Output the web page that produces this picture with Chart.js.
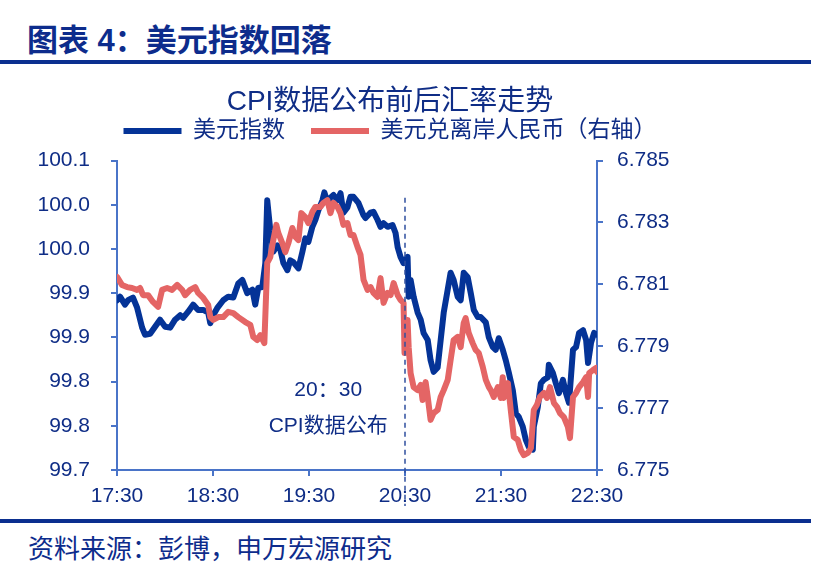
<!DOCTYPE html>
<html lang="zh-CN">
<head>
<meta charset="utf-8">
<title>图表 4：美元指数回落</title>
<script src="https://cdn.jsdelivr.net/npm/chart.js@4.4.1/dist/chart.umd.min.js"></script>
<style>
body{
    margin:0;
    width:814px;
    height:578px;
    background:#fff;
    position:relative;
    overflow:hidden;
    font-family:"Liberation Sans","Noto Sans CJK SC",sans-serif;
}
.head{
    position:absolute;
    left:27px;
    top:25px;
    font-size:31px;
    line-height:31px;
    font-weight:bold;
    color:#0d2c8c;
    white-space:nowrap;
}
.rule{
    position:absolute;
    left:0;
    width:811px;
    height:4px;
    background:#0b2f8f;
}
.foot{
    position:absolute;
    left:28px;
    top:536px;
    font-size:26px;
    line-height:26px;
    color:#0d2c8c;
    white-space:nowrap;
}
#chart{
    position:absolute;
    left:0;
    top:70px;
}
</style>
</head>
<body>

<div class="head">图表 4：美元指数回落</div>
<div class="rule" style="top:60px"></div>
<canvas id="chart" width="780" height="450"></canvas>
<div class="rule" style="top:519px"></div>
<div class="foot">资料来源：彭博，申万宏源研究</div>

<script>
const timeLabels = ["17:30", "18:30", "19:30", "20:30", "21:30", "22:30"];
const leftTickLabels = ["99.7", "99.8", "99.8", "99.9", "99.9", "100.0", "100.0", "100.1"];
const rightTickLabels = ["6.775", "6.777", "6.779", "6.781", "6.783", "6.785"];

// minutes after 17:30
const usdTimes = [
    0, 1.9, 5, 6.9, 10, 12.5, 15.7, 17.5, 20.7, 23.8,
    26.9, 30.1, 33.2, 36.3, 39.5, 41.3, 44.5, 47.6, 50.7, 53.9,
    57, 58.3, 60.1, 62.6, 66.4, 69.5, 72.7, 75.8, 78.3, 81.4,
    84.6, 86.4, 88.3, 90.8, 92.7, 93.9, 95.8, 97.7, 100.2, 102.1,
    104, 106.5, 108.3, 110.2, 113.4, 115.9, 117.7, 119.6, 122.1, 124,
    125.9, 128.4, 129.6, 131.5, 133.4, 135.3, 137.8, 139.7, 141.5, 144,
    145.9, 147.8, 150.9, 154.1, 155.3, 158.5, 160.3, 162.8, 164.7, 166.6,
    169.1, 172.2, 174.1, 175.4, 177.2, 179.1, 181.6, 182.3, 183.5, 185.4,
    187.9, 189.8, 191.6, 194.2, 196, 197.9, 200.4, 202.3, 204.2, 206.7,
    208.5, 210.4, 212.9, 214.8, 216.7, 219.2, 221.1, 223, 225.5, 227.3,
    230.5, 232.4, 234.9, 236.7, 238.6, 241.1, 243, 244.9, 247.4, 249.3,
    251.1, 253.6, 255.5, 257.4, 259.9, 260.5, 263, 264.9, 266.8, 269.3,
    269.9, 272.4, 274.3, 276.2, 278.7, 280.6, 282.5, 285, 286.9, 288.8,
    291.3, 293.2, 294.4, 296.3, 298.2, 300
];
const usdIndex = [
    99.892, 99.896, 99.887, 99.892, 99.895, 99.884, 99.861, 99.853, 99.854, 99.862,
    99.870, 99.862, 99.861, 99.870, 99.875, 99.872, 99.879, 99.887, 99.881, 99.881,
    99.878, 99.866, 99.875, 99.883, 99.892, 99.896, 99.895, 99.911, 99.915, 99.900,
    99.904, 99.887, 99.906, 99.907, 99.934, 100.005, 99.971, 99.947, 99.954, 99.949,
    99.934, 99.926, 99.937, 99.935, 99.928, 99.947, 99.962, 99.958, 99.975, 99.983,
    99.994, 100.005, 100.014, 100.003, 100.008, 100.011, 100.005, 100.013, 99.991, 99.997,
    100.009, 100.009, 100.002, 99.988, 99.985, 99.991, 99.992, 99.983, 99.975, 99.979,
    99.975, 99.977, 99.968, 99.952, 99.941, 99.934, 99.941, 99.896, 99.915, 99.896,
    99.878, 99.870, 99.855, 99.847, 99.824, 99.811, 99.816, 99.847, 99.878, 99.904,
    99.923, 99.915, 99.896, 99.892, 99.923, 99.918, 99.900, 99.881, 99.873, 99.873,
    99.867, 99.850, 99.839, 99.836, 99.849, 99.836, 99.824, 99.810, 99.790, 99.764,
    99.760, 99.749, 99.734, 99.726, 99.723, 99.749, 99.771, 99.798, 99.802, 99.805,
    99.819, 99.810, 99.798, 99.787, 99.802, 99.787, 99.776, 99.836, 99.839, 99.855,
    99.858, 99.847, 99.821, 99.844, 99.855, 99.853
];

const cnhTimes = [
    0, 3.1, 6.3, 9.4, 12.5, 14.4, 16.3, 19.4, 22.5, 25.7,
    28.2, 31.3, 34.4, 37.6, 40.7, 42.6, 45.7, 48.9, 50.7, 53.9,
    57, 58.3, 60.1, 63.3, 66.4, 69.5, 72.7, 75.8, 80.2, 83.3,
    85.2, 87.7, 89.6, 92.1, 93.9, 95.8, 97.7, 99.6, 100.8, 103.3,
    105.2, 107.1, 109.6, 111.5, 113.4, 115.2, 117.7, 119.6, 122.1, 124,
    127.1, 129, 131.5, 133.4, 135.3, 137.8, 139.7, 141.5, 144, 145.9,
    147.8, 150.3, 152.2, 154.1, 156.6, 158.5, 160.3, 162.8, 164.7, 166.6,
    169.1, 171, 172.9, 175.4, 177.2, 179.1, 179.7, 181.6, 182.3, 183.5,
    185.4, 187.9, 189.8, 191, 192.9, 194.2, 196, 197.9, 200.4, 202.3,
    204.2, 206.7, 208.5, 210.4, 212.9, 214.8, 216.7, 217.9, 219.8, 222.3,
    224.2, 226.1, 228.6, 230.5, 232.4, 233.6, 235.5, 238, 239.9, 241.1,
    241.7, 244.3, 246.1, 248, 250.5, 252.4, 254.3, 256.8, 258.7, 260.5,
    262.4, 264.3, 266.8, 268.7, 270.6, 273.1, 275, 276.8, 279.3, 281.8,
    283.1, 285, 286.9, 288.8, 291.3, 293.2, 294.4, 295.1, 297.5, 299.4,
    300
];
const usdCnh = [
    6.78124, 6.78098, 6.78091, 6.78088, 6.78082, 6.78088, 6.78065, 6.78065, 6.78043, 6.78027,
    6.78082, 6.78088, 6.78082, 6.78098, 6.78082, 6.78065, 6.78082, 6.78091, 6.78072, 6.78056,
    6.78033, 6.77994, 6.77985, 6.77994, 6.77994, 6.78011, 6.78007, 6.77994, 6.77978, 6.77969,
    6.77930, 6.77920, 6.77936, 6.77910, 6.78169, 6.78188, 6.78243, 6.78292, 6.78266, 6.78233,
    6.78204, 6.78233, 6.78282, 6.78253, 6.78243, 6.78330, 6.78317, 6.78298, 6.78334, 6.78350,
    6.78350, 6.78363, 6.78372, 6.78330, 6.78363, 6.78350, 6.78330, 6.78292, 6.78298, 6.78259,
    6.78259, 6.78221, 6.78195, 6.78114, 6.78082, 6.78091, 6.78072, 6.78059, 6.78120, 6.78040,
    6.78072, 6.78065, 6.78104, 6.78065, 6.78049, 6.78040, 6.77878, 6.77985, 6.77897, 6.77813,
    6.77768, 6.77758, 6.77775, 6.77726, 6.77784, 6.77736, 6.77662, 6.77684, 6.77694, 6.77736,
    6.77758, 6.77791, 6.77855, 6.77920, 6.77930, 6.77897, 6.77975, 6.77991, 6.77943, 6.77910,
    6.77888, 6.77878, 6.77833, 6.77791, 6.77768, 6.77758, 6.77736, 6.77768, 6.77733, 6.77800,
    6.77733, 6.77781, 6.77694, 6.77607, 6.77597, 6.77565, 6.77548, 6.77555, 6.77571, 6.77694,
    6.77710, 6.77736, 6.77749, 6.77733, 6.77768, 6.77716, 6.77704, 6.77684, 6.77671, 6.77639,
    6.77603, 6.77736, 6.77749, 6.77768, 6.77784, 6.77800, 6.77736, 6.77813, 6.77823, 6.77830,
    6.77817
];

// CPI release marker (20:30) and its note
const cpiTime = 180;
const cpiLineTop = 100.008;
const noteTexts = ["20：30", "CPI数据公布"];
const noteTimes = [132, 132];
const noteValues = [99.790, 99.750];

const FONT = '"Liberation Sans", "Noto Sans CJK SC", sans-serif';
const TEXT = "#0f2d86";
const AXIS = "#4a74c8";
const BLUE = "#043397";
const RED = "#e46565";

function toPoints(times, values){
    return times.map((t, i) => ({x: t, y: values[i]}));
}

const cpiMarker = {
    id: "cpiMarker",
    afterDatasetsDraw(chart){
        const {ctx, chartArea, scales} = chart;
        const x = scales.x.getPixelForValue(cpiTime);
        const top = scales.yLeft.getPixelForValue(cpiLineTop);

        ctx.save();
        ctx.strokeStyle = "#2f4f9e";
        ctx.lineWidth = 1.5;
        ctx.setLineDash([5, 4]);
        ctx.beginPath();
        ctx.moveTo(x, top);
        ctx.lineTo(x, chartArea.bottom + 36);
        ctx.stroke();
        ctx.setLineDash([]);

        ctx.fillStyle = TEXT;
        ctx.font = "21px " + FONT;
        ctx.textAlign = "center";
        ctx.textBaseline = "middle";
        noteTexts.forEach((text, i) => {
            ctx.fillText(
                text,
                scales.x.getPixelForValue(noteTimes[i]),
                scales.yLeft.getPixelForValue(noteValues[i])
            );
        });
        ctx.restore();
    }
};

function axisGrid(){
    return {
        drawOnChartArea: false,
        drawTicks: true,
        tickLength: 6,
        color: AXIS,
        lineWidth: 2
    };
}

const ctx = document.getElementById("chart").getContext("2d");

new Chart(ctx, {
    type: "line",
    data: {
        datasets: [{
            label: "美元指数",
            data: toPoints(usdTimes, usdIndex),
            yAxisID: "yLeft",
            borderColor: BLUE,
            backgroundColor: BLUE,
            borderWidth: 6,
            borderJoinStyle: "round",
            borderCapStyle: "round",
            pointRadius: 0,
            tension: 0,
            order: 2
        }, {
            label: "美元兑离岸人民币（右轴）",
            data: toPoints(cnhTimes, usdCnh),
            yAxisID: "yRight",
            borderColor: RED,
            backgroundColor: RED,
            borderWidth: 6,
            borderJoinStyle: "round",
            borderCapStyle: "round",
            pointRadius: 0,
            tension: 0,
            order: 1
        }]
    },
    options: {
        responsive: false,
        animation: false,
        devicePixelRatio: 1,
        layout: {padding: 0},
        plugins: {
            title: {
                display: true,
                text: "CPI数据公布前后汇率走势",
                color: TEXT,
                font: {size: 28, family: FONT, weight: "normal", lineHeight: 1},
                padding: {top: 18, bottom: -22.5}
            },
            subtitle: {
                display: true,
                text: "",
                position: "top",
                weight: 500,
                font: {size: 8, lineHeight: 1},
                padding: 0
            },
            legend: {
                position: "top",
                labels: {
                    usePointStyle: true,
                    pointStyle: "line",
                    pointStyleWidth: 58,
                    padding: 26,
                    color: TEXT,
                    font: {size: 23, family: FONT},
                    sort: (a, b) => a.datasetIndex - b.datasetIndex
                }
            },
            tooltip: {enabled: false}
        },
        scales: {
            x: {
                type: "linear",
                min: 0,
                max: 300,
                ticks: {
                    stepSize: 60,
                    autoSkip: false,
                    maxRotation: 0,
                    padding: 8,
                    color: TEXT,
                    font: {size: 21, family: FONT},
                    callback: (v, i) => timeLabels[i]
                },
                grid: axisGrid(),
                border: {color: AXIS, width: 2},
                afterFit(scale){ scale.height = 50; }
            },
            yLeft: {
                position: "left",
                min: 99.70,
                max: 100.05,
                ticks: {
                    stepSize: 0.05,
                    padding: 21,
                    color: TEXT,
                    font: {size: 21, family: FONT},
                    callback: (v, i) => leftTickLabels[i]
                },
                grid: axisGrid(),
                border: {color: AXIS, width: 2},
                afterFit(scale){ scale.width = 117; }
            },
            yRight: {
                position: "right",
                min: 6.775,
                max: 6.785,
                ticks: {
                    stepSize: 0.002,
                    padding: 14,
                    color: TEXT,
                    font: {size: 21, family: FONT},
                    callback: (v, i) => rightTickLabels[i]
                },
                grid: axisGrid(),
                border: {color: AXIS, width: 2},
                afterFit(scale){ scale.width = 183; }
            }
        }
    },
    plugins: [cpiMarker]
});
</script>
</body>
</html>
